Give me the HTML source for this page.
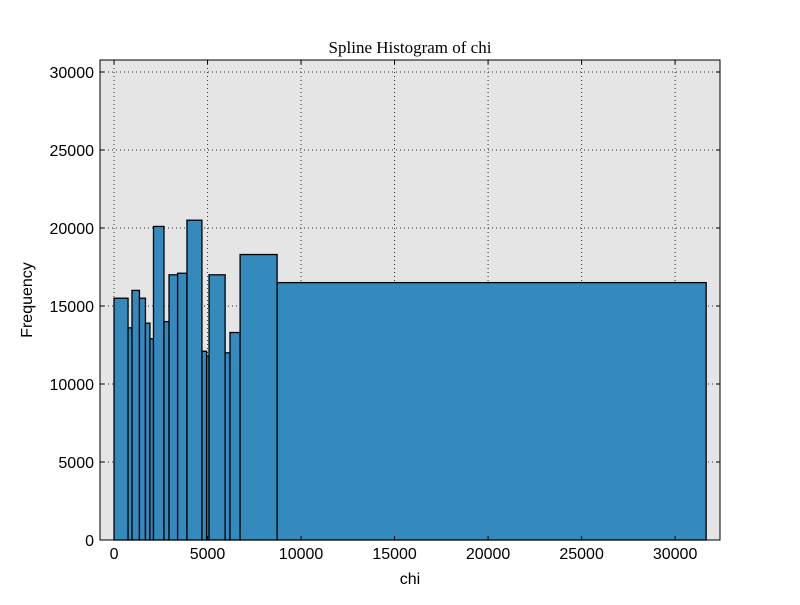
<!DOCTYPE html>
<html><head><meta charset="utf-8"><style>
body{margin:0;background:#fff;}
svg text{font-family:"Liberation Sans",sans-serif;}
</style></head><body>
<svg id="chart" width="800" height="600"></svg>
<script>
const binEdges=[0,750,960,1360,1680,1920,2110,2670,2940,3400,3900,4700,4950,5080,5940,6200,6740,8720,31660];
const frequencies=[15500,13600,16000,15500,13900,12900,20100,14000,17000,17100,20500,12100,11800,17000,12000,13300,18300,16500];
const xTicks=[0,5000,10000,15000,20000,25000,30000];
const yTicks=[0,5000,10000,15000,20000,25000,30000];
const NS='http://www.w3.org/2000/svg';
const svg=document.getElementById('chart');
const L=100,R=720,T=60,B=540;
const xMin=-750,xMax=32400,yMax=30770;
const xs=v=>L+(v-xMin)/(xMax-xMin)*(R-L);
const ys=v=>B-v/yMax*(B-T);
function mk(tag,a,txt){const e=document.createElementNS(NS,tag);for(const k in a)e.setAttribute(k,a[k]);if(txt!==undefined)e.textContent=txt;svg.appendChild(e);return e;}
let bg=mk('rect',{x:L,y:T,width:R-L,height:B-T,fill:'#e5e5e5'});


xTicks.forEach(t=>{const g=mk('line',{x1:xs(t),x2:xs(t),y1:T,y2:B,stroke:'#333','stroke-dasharray':'1,3','stroke-width':1});

});
yTicks.forEach(t=>{const g=mk('line',{x1:L,x2:R,y1:ys(t),y2:ys(t),stroke:'#333','stroke-dasharray':'1,3','stroke-width':1});

});
frequencies.forEach((f,i)=>{const x0=xs(binEdges[i]),x1=xs(binEdges[i+1]);
const b=mk('rect',{x:x0,y:ys(f),width:x1-x0,height:B-ys(f),fill:'#348abd',stroke:'#000','stroke-width':1.3});

});
let fr=mk('rect',{x:L,y:T,width:R-L,height:B-T,fill:'none',stroke:'#000','stroke-width':1});


xTicks.forEach(t=>{mk('line',{x1:xs(t),x2:xs(t),y1:B,y2:B-4,stroke:'#000'});mk('line',{x1:xs(t),x2:xs(t),y1:T,y2:T+4,stroke:'#000'});
const l=mk('text',{x:xs(t),y:B+19,'text-anchor':'middle','font-size':16},String(t));

});
yTicks.forEach(t=>{mk('line',{x1:L,x2:L+4,y1:ys(t),y2:ys(t),stroke:'#000'});mk('line',{x1:R,x2:R-4,y1:ys(t),y2:ys(t),stroke:'#000'});
const l=mk('text',{x:L-6,y:ys(t)+6,'text-anchor':'end','font-size':16},String(t));

});
let xt=mk('text',{x:410,y:584,'text-anchor':'middle','font-size':16},'chi');


let yt=mk('text',{x:32,y:300,'text-anchor':'middle','font-size':16,transform:'rotate(-90 32 300)'},'Frequency');


let tt=mk('text',{x:410,y:53,'text-anchor':'middle','font-size':17,style:'font-family:"Liberation Serif",serif'},'Spline Histogram of chi');


</script>
</body></html>
